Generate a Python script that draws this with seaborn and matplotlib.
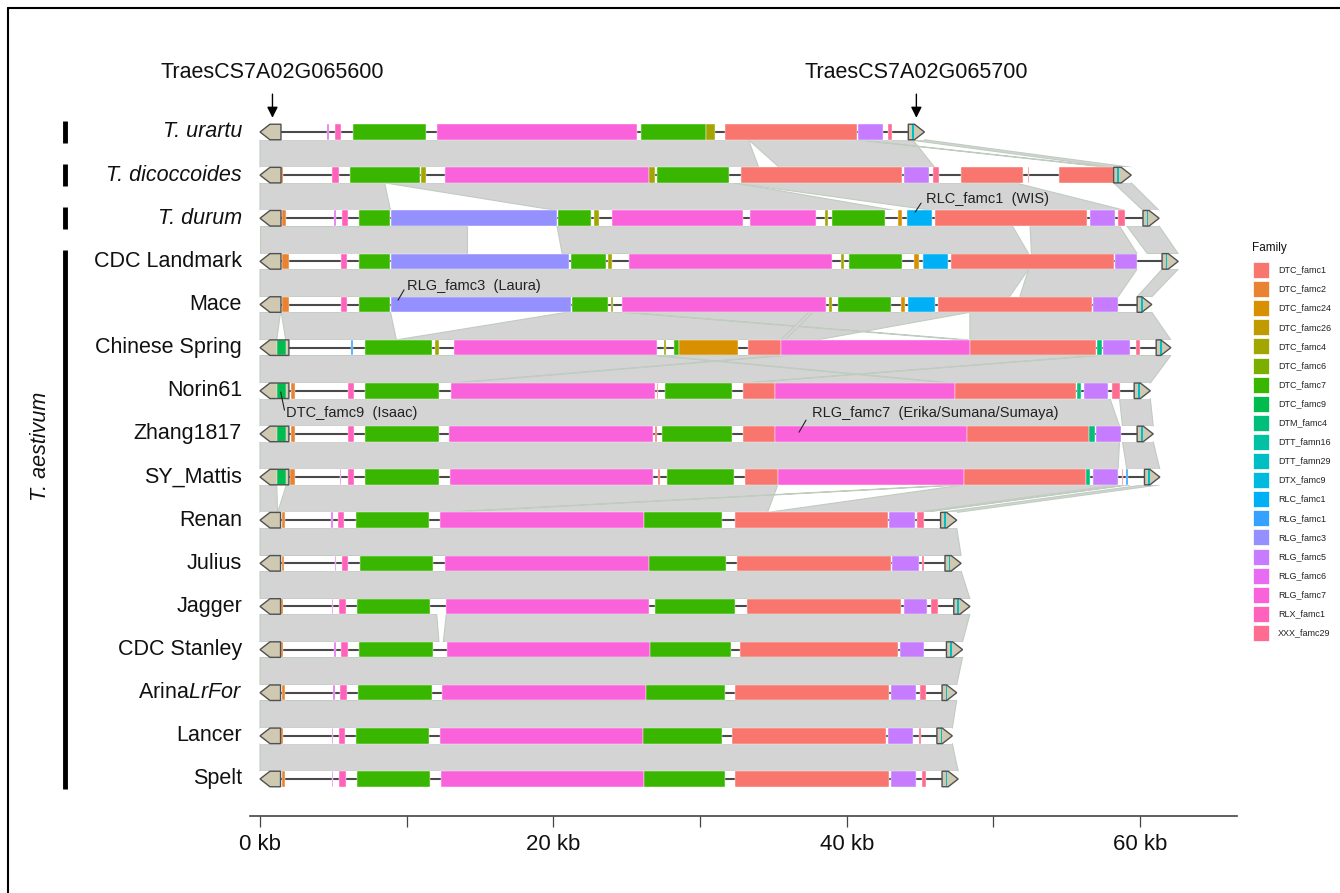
import numpy as np
import pandas as pd
import seaborn as sns
from matplotlib import pyplot as plt
from matplotlib import transforms
from matplotlib.patches import Polygon, Rectangle
from matplotlib.lines import Line2D

# TE families and ggplot-like hue colours
families = ['DTC_famc1', 'DTC_famc2', 'DTC_famc24', 'DTC_famc26', 'DTC_famc4', 'DTC_famc6',
            'DTC_famc7', 'DTC_famc9', 'DTM_famc4', 'DTT_famn16', 'DTT_famn29', 'DTX_famc9',
            'RLC_famc1', 'RLG_famc1', 'RLG_famc3', 'RLG_famc5', 'RLG_famc6', 'RLG_famc7',
            'RLX_famc1', 'XXX_famc29']
family_colors = ['#F8766D', '#EA8331', '#D89000', '#C09B00', '#A3A500', '#7CAE00',
                 '#39B600', '#00BB4E', '#00BF7D', '#00C1A3', '#00BFC4', '#00BAE0',
                 '#00B0F6', '#35A2FF', '#9590FF', '#C77CFF', '#E76BF3', '#FA62DB',
                 '#FF62BC', '#FF6C91']

row_names = ['T. urartu', 'T. dicoccoides', 'T. durum', 'CDC Landmark', 'Mace', 'Chinese Spring',
             'Norin61', 'Zhang1817', 'SY_Mattis', 'Renan', 'Julius', 'Jagger', 'CDC Stanley',
             'Arina$\\mathit{LrFor}$', 'Lancer', 'Spelt']
row_italic = [True, True, True] + [False] * 13

# gene positions (kb)
gene_left_end = [1.43, 1.43, 1.43, 1.43, 1.43, 1.97, 1.97, 1.97, 1.97, 1.4, 1.4, 1.4, 1.4, 1.4, 1.4, 1.4]
gene_right_start = [44.2, 58.2, 60.2, 61.5, 59.8, 61.1, 59.6, 59.8, 60.3, 46.4, 46.7, 47.3, 46.8, 46.5, 46.15, 46.5]
gene_right_end = [45.3, 59.4, 61.3, 62.6, 60.8, 62.1, 60.7, 60.9, 61.35, 47.5, 47.8, 48.4, 47.9, 47.5, 47.2, 47.6]

# TE blocks per row: (start kb, end kb, family)
urartu_te = [(4.55, 4.7, 'RLG_famc6'), (5.1, 5.5, 'RLX_famc1'), (6.34, 11.3, 'DTC_famc7'),
             (12.07, 25.7, 'RLG_famc7'), (26.0, 30.4, 'DTC_famc7'), (30.4, 31.0, 'DTC_famc4'),
             (31.7, 40.7, 'DTC_famc1'), (40.8, 42.5, 'RLG_famc5'), (42.8, 43.1, 'XXX_famc29')]
dicocc_te = [(1.43, 1.55, 'DTC_famc2'), (4.9, 5.4, 'RLX_famc1'), (6.13, 10.9, 'DTC_famc7'),
             (11.0, 11.3, 'DTC_famc4'), (12.6, 26.5, 'RLG_famc7'), (26.5, 26.9, 'DTC_famc4'),
             (27.1, 32.0, 'DTC_famc7'), (32.8, 43.8, 'DTC_famc1'), (43.9, 45.6, 'RLG_famc5'),
             (45.9, 46.3, 'XXX_famc29'), (47.8, 52.0, 'DTC_famc1'), (52.35, 52.45, 'DTC_famc1'),
             (54.5, 58.2, 'DTC_famc1')]
durum_te = [(1.48, 1.77, 'DTC_famc2'), (5.05, 5.15, 'RLG_famc6'), (5.56, 5.98, 'RLX_famc1'),
            (6.75, 8.86, 'DTC_famc7'), (8.93, 20.25, 'RLG_famc3'), (20.3, 22.6, 'DTC_famc7'),
            (22.8, 23.1, 'DTC_famc4'), (24.0, 32.9, 'RLG_famc7'), (33.4, 37.9, 'RLG_famc7'),
            (38.55, 38.7, 'DTC_famc4'), (39.0, 42.6, 'DTC_famc7'), (43.5, 43.8, 'DTC_famc24'),
            (44.1, 45.8, 'RLC_famc1'), (46.0, 56.4, 'DTC_famc1'), (56.6, 58.3, 'RLG_famc5'),
            (58.5, 58.95, 'XXX_famc29')]
landmark_te = [(1.48, 1.99, 'DTC_famc2'), (5.5, 5.9, 'RLX_famc1'), (6.75, 8.86, 'DTC_famc7'),
               (8.9, 21.1, 'RLG_famc3'), (21.2, 23.6, 'DTC_famc7'), (23.7, 23.97, 'DTC_famc4'),
               (25.15, 38.98, 'RLG_famc7'), (39.6, 39.8, 'DTC_famc4'), (40.15, 43.8, 'DTC_famc7'),
               (44.6, 44.9, 'DTC_famc24'), (45.2, 46.9, 'RLC_famc1'), (47.1, 58.2, 'DTC_famc1'),
               (58.3, 59.8, 'RLG_famc5')]
mace_te = [(1.5, 1.97, 'DTC_famc2'), (5.5, 5.9, 'RLX_famc1'), (6.75, 8.86, 'DTC_famc7'),
           (8.93, 21.2, 'RLG_famc3'), (21.3, 23.7, 'DTC_famc7'), (23.9, 24.1, 'DTC_famc4'),
           (24.7, 38.6, 'RLG_famc7'), (38.8, 39.0, 'DTC_famc4'), (39.4, 43.0, 'DTC_famc7'),
           (43.7, 44.0, 'DTC_famc24'), (44.2, 46.0, 'RLC_famc1'), (46.2, 56.7, 'DTC_famc1'),
           (56.8, 58.5, 'RLG_famc5')]
cs_te = [(1.14, 1.75, 'DTC_famc9'), (6.2, 6.35, 'RLG_famc1'), (7.16, 11.7, 'DTC_famc7'),
         (11.9, 12.2, 'DTC_famc4'), (13.2, 27.1, 'RLG_famc7'), (27.55, 27.65, 'DTC_famc4'),
         (28.2, 28.6, 'DTC_famc7'), (28.6, 32.6, 'DTC_famc24'), (33.3, 35.5, 'DTC_famc1'),
         (35.5, 48.4, 'RLG_famc7'), (48.4, 57.0, 'DTC_famc1'), (57.05, 57.4, 'DTM_famc4'),
         (57.5, 59.3, 'RLG_famc5'), (59.7, 60.0, 'XXX_famc29')]
norin_te = [(1.14, 1.75, 'DTC_famc9'), (2.1, 2.4, 'DTC_famc2'), (6.0, 6.4, 'RLX_famc1'),
            (7.16, 12.2, 'DTC_famc7'), (13.0, 26.9, 'RLG_famc7'), (27.05, 27.15, 'DTC_famc1'),
            (27.6, 32.2, 'DTC_famc7'), (32.9, 35.1, 'DTC_famc1'), (35.1, 47.4, 'RLG_famc7'),
            (47.4, 55.6, 'DTC_famc1'), (55.7, 56.0, 'DTM_famc4'), (56.2, 57.8, 'RLG_famc5'),
            (58.1, 58.6, 'XXX_famc29')]
zhang_te = [(1.14, 1.75, 'DTC_famc9'), (2.1, 2.4, 'DTC_famc2'), (6.0, 6.4, 'RLX_famc1'),
            (7.16, 12.2, 'DTC_famc7'), (12.9, 26.8, 'RLG_famc7'), (26.95, 27.05, 'DTC_famc1'),
            (27.4, 32.2, 'DTC_famc7'), (32.9, 35.1, 'DTC_famc1'), (35.1, 48.2, 'RLG_famc7'),
            (48.2, 56.5, 'DTC_famc1'), (56.5, 56.9, 'DTM_famc4'), (57.0, 58.7, 'RLG_famc5')]
mattis_te = [(1.14, 1.75, 'DTC_famc9'), (2.07, 2.4, 'DTC_famc2'), (5.45, 5.55, 'RLG_famc6'),
             (6.0, 6.4, 'RLX_famc1'), (7.16, 12.2, 'DTC_famc7'), (12.95, 26.8, 'RLG_famc7'),
             (27.15, 27.25, 'DTC_famc1'), (27.75, 32.3, 'DTC_famc7'), (33.1, 35.3, 'DTC_famc1'),
             (35.3, 48.0, 'RLG_famc7'), (48.0, 56.3, 'DTC_famc1'), (56.3, 56.6, 'DTM_famc4'),
             (56.8, 58.5, 'RLG_famc5'), (58.75, 58.85, 'XXX_famc29'), (59.05, 59.15, 'RLG_famc1')]
renan_te = [(1.48, 1.7, 'DTC_famc2'), (4.85, 4.95, 'RLG_famc6'), (5.3, 5.73, 'RLX_famc1'),
            (6.54, 11.5, 'DTC_famc7'), (12.3, 26.2, 'RLG_famc7'), (26.2, 31.5, 'DTC_famc7'),
            (32.4, 42.8, 'DTC_famc1'), (42.9, 44.65, 'RLG_famc5'), (44.8, 45.3, 'XXX_famc29')]
julius_te = [(1.48, 1.63, 'DTC_famc2'), (5.1, 5.2, 'RLG_famc6'), (5.6, 6.0, 'RLX_famc1'),
             (6.82, 11.8, 'DTC_famc7'), (12.6, 26.5, 'RLG_famc7'), (26.5, 31.8, 'DTC_famc7'),
             (32.5, 43.0, 'DTC_famc1'), (43.1, 44.9, 'RLG_famc5'), (45.15, 45.25, 'XXX_famc29')]
jagger_te = [(1.43, 1.6, 'DTC_famc2'), (4.88, 4.98, 'RLG_famc6'), (5.36, 5.84, 'RLX_famc1'),
             (6.63, 11.6, 'DTC_famc7'), (12.7, 26.5, 'RLG_famc7'), (26.9, 32.4, 'DTC_famc7'),
             (33.2, 43.7, 'DTC_famc1'), (43.9, 45.5, 'RLG_famc5'), (45.75, 46.2, 'XXX_famc29')]
stanley_te = [(1.43, 1.6, 'DTC_famc2'), (5.05, 5.15, 'RLG_famc6'), (5.5, 5.98, 'RLX_famc1'),
              (6.75, 11.8, 'DTC_famc7'), (12.76, 26.6, 'RLG_famc7'), (26.6, 32.1, 'DTC_famc7'),
              (32.7, 43.5, 'DTC_famc1'), (43.6, 45.3, 'RLG_famc5')]
arina_te = [(1.47, 1.73, 'DTC_famc2'), (5.0, 5.1, 'RLG_famc6'), (5.45, 5.94, 'RLX_famc1'),
            (6.7, 11.7, 'DTC_famc7'), (12.4, 26.3, 'RLG_famc7'), (26.3, 31.7, 'DTC_famc7'),
            (32.4, 42.9, 'DTC_famc1'), (43.0, 44.7, 'RLG_famc5'), (45.0, 45.4, 'XXX_famc29')]
lancer_te = [(1.43, 1.6, 'DTC_famc2'), (4.88, 4.98, 'RLG_famc6'), (5.36, 5.78, 'RLX_famc1'),
             (6.56, 11.55, 'DTC_famc7'), (12.24, 26.1, 'RLG_famc7'), (26.1, 31.5, 'DTC_famc7'),
             (32.2, 42.65, 'DTC_famc1'), (42.8, 44.5, 'RLG_famc5'), (44.95, 45.05, 'XXX_famc29')]
spelt_te = [(1.47, 1.73, 'DTC_famc2'), (4.88, 4.98, 'RLG_famc6'), (5.4, 5.84, 'RLX_famc1'),
            (6.63, 11.6, 'DTC_famc7'), (12.34, 26.2, 'RLG_famc7'), (26.2, 31.7, 'DTC_famc7'),
            (32.4, 42.9, 'DTC_famc1'), (43.05, 44.7, 'RLG_famc5'), (45.1, 45.4, 'XXX_famc29')]
te_rows = [urartu_te, dicocc_te, durum_te, landmark_te, mace_te, cs_te, norin_te, zhang_te,
           mattis_te, renan_te, julius_te, jagger_te, stanley_te, arina_te, lancer_te, spelt_te]

# synteny between neighbouring rows: (upper start, upper end, lower start, lower end) in kb
syn_0_1 = [(0, 33.3, 0, 34.0), (33.3, 44.5, 35.4, 46.0), (44.2, 45.3, 58.2, 59.4), (40.6, 40.8, 57.8, 58.1)]
syn_1_2 = [(0, 8.5, 0, 8.9), (8.5, 32.3, 20.25, 43.3), (32.3, 51.5, 45.9, 59.0), (58.2, 59.4, 60.2, 61.3)]
syn_2_3 = [(0, 14.1, 0, 14.1), (20.25, 51.3, 20.6, 52.4), (52.5, 58.6, 52.6, 59.8), (59.1, 61.3, 60.5, 62.6)]
syn_3_4 = [(0, 52.4, 0, 51.1), (52.4, 59.8, 51.8, 58.5), (61.5, 62.6, 59.8, 60.8)]
syn_4_5 = [(0, 1.4, 0, 1.14), (1.45, 8.9, 1.75, 9.3), (20.9, 48.4, 9.3, 38.0), (48.4, 60.8, 48.4, 62.1),
           (24.7, 25.0, 47.9, 48.3), (37.4, 37.7, 35.5, 35.8)]
syn_5_6 = [(0, 62.1, 0, 60.7), (35.5, 35.9, 13.0, 13.4), (26.8, 27.1, 46.9, 47.3), (57.0, 57.3, 32.9, 33.2)]
syn_6_7 = [(0, 57.95, 0, 58.6), (58.6, 60.7, 58.8, 60.9)]
syn_7_8 = [(0, 58.6, 0, 58.5), (58.8, 60.9, 59.1, 61.35)]
syn_8_9 = [(0, 1.14, 0, 1.2), (1.8, 35.3, 1.2, 34.6), (48.0, 58.5, 34.6, 44.7), (60.3, 61.35, 46.4, 47.5),
           (47.6, 48.0, 12.3, 12.7), (59.0, 59.3, 45.0, 45.3)]
syn_9_10 = [(0, 47.5, 0, 47.8)]
syn_10_11 = [(0, 47.8, 0, 48.4)]
syn_11_12 = [(0, 12.05, 0, 12.2), (12.7, 48.4, 12.5, 47.9)]
syn_12_13 = [(0, 47.9, 0, 47.5)]
syn_13_14 = [(0, 47.5, 0, 47.2)]
syn_14_15 = [(0, 47.2, 0, 47.6)]
syn_pairs = [syn_0_1, syn_1_2, syn_2_3, syn_3_4, syn_4_5, syn_5_6, syn_6_7, syn_7_8,
             syn_8_9, syn_9_10, syn_10_11, syn_11_12, syn_12_13, syn_13_14, syn_14_15]

major_ticks = [0, 20, 40, 60]
tick_labels = ['0 kb', '20 kb', '40 kb', '60 kb']
minor_ticks = [10, 30, 50]

# labelled TEs: (text, text x, text y, line from x, y)
callouts = [('RLC_famc1  (WIS)', 45.4, 1.55, 44.66, 1.86, 45.07, 1.65),
            ('RLG_famc3  (Laura)', 10.02, 3.57, 9.41, 3.90, 9.82, 3.66),
            ('DTC_famc9  (Isaac)', 1.77, 6.515, 1.41, 6.03, 1.67, 6.45),
            ('RLG_famc7  (Erika/Sumana/Sumaya)', 37.64, 6.515, 36.75, 6.96, 37.23, 6.68)]
top_genes = [('TraesCS7A02G065600', 0.85), ('TraesCS7A02G065700', 44.75)]

te = pd.DataFrame([(i, s, e, f) for i, blocks in enumerate(te_rows) for s, e, f in blocks],
                  columns=['row', 'start', 'end', 'family'])

sns.set_theme(style='white')
plt.rcParams['font.family'] = ['Liberation Sans', 'DejaVu Sans']
plt.rcParams['mathtext.fontset'] = 'custom'
plt.rcParams['mathtext.rm'] = 'Liberation Sans'
plt.rcParams['mathtext.it'] = 'Liberation Sans:italic'

pal = dict(zip(families, family_colors))
W, H = 1340, 893
fig = plt.figure(figsize=(13.4, 8.93), dpi=100)
ax = fig.add_axes([250 / W, 1 - 816 / H, 987 / W, 756 / H])
ax.set_xlim(-0.682, 66.61)
ax.set_ylim(15.858, -1.669)
h = 0.18
hl = 0.68

# synteny ribbons
for i, links in enumerate(syn_pairs):
    y0, y1 = i + h, i + 1 - h
    for ts, te_, bs, be in links:
        ax.add_patch(Polygon([(ts, y0), (te_, y0), (be, y1), (bs, y1)], closed=True,
                             fc='#D4D4D4', ec='#C0CCC0', lw=0.8, zorder=1))

# rows
for i in range(len(row_names)):
    le, rs, re = gene_left_end[i], gene_right_start[i], gene_right_end[i]
    ax.add_patch(Rectangle((0, i - h), re, 2 * h, fc='white', ec='none', zorder=2))
    ax.plot([le, rs], [i, i], color='#4a4a4a', lw=1.5, zorder=3, solid_capstyle='butt')
    left = [(0, i), (hl, i - h), (le, i - h), (le, i + h), (hl, i + h)]
    right = [(rs, i - h), (re - hl, i - h), (re, i), (re - hl, i + h), (rs, i + h)]
    for pts in (left, right):
        ax.add_patch(Polygon(pts, closed=True, fc='#CFC9B1', ec='none', zorder=4))
        ax.add_patch(Polygon(pts, closed=True, fill=False, ec='#505050', lw=1.0, zorder=6))
    ax.add_patch(Rectangle((rs + 0.25, i - h), 0.12, 2 * h, fc=pal['DTT_famn29'], ec='none', zorder=5))

for _, r in te.iterrows():
    ax.add_patch(Rectangle((r['start'], r['row'] - h), r['end'] - r['start'], 2 * h,
                           fc=pal[r['family']], ec='white', lw=0.3, zorder=5))

# callouts
for txt, tx, ty, x0, y0, x1, y1 in callouts:
    ax.plot([x0, x1], [y0, y1], color='#222222', lw=0.8, zorder=7)
    ax.text(tx, ty, txt, fontsize=10.5, color='#222222', ha='left', va='center', zorder=7)

for name, gx in top_genes:
    ax.annotate(name, xy=(gx, -0.33), xytext=(gx, -1.39), ha='center', va='center',
                fontsize=15.5, color='#111111',
                arrowprops=dict(arrowstyle='-|>', color='black', lw=1.0, mutation_scale=16,
                                shrinkA=6, shrinkB=0))

# x axis
sns.despine(ax=ax, left=True, top=True, right=True)
ax.spines['bottom'].set_color('#444444')
ax.spines['bottom'].set_linewidth(1.2)
ax.set_yticks([])
ax.set_xticks(major_ticks)
ax.set_xticklabels(tick_labels)
ax.set_xticks(minor_ticks, minor=True)
ax.tick_params(axis='x', which='both', bottom=True, length=8, width=0.9, color='#444444',
               labelsize=16, pad=5, labelcolor='#111111')
ax.grid(False)

# row labels and group bars
trans = transforms.blended_transform_factory(fig.transFigure, ax.transData)
for i, name in enumerate(row_names):
    fig.text(242 / W, i, name, transform=trans, ha='right', va='center', fontsize=15.5,
             style='italic' if row_italic[i] else 'normal', color='#111111')
for y0, y1 in [(-0.26, 0.26), (0.74, 1.26), (1.74, 2.26), (2.73, 15.23)]:
    fig.add_artist(Line2D([65 / W, 65 / W], [y0, y1], transform=trans, color='black', lw=3.5,
                          solid_capstyle='butt'))
fig.text(40 / W, 7.3, 'T. aestivum', transform=trans, rotation=90, ha='center', va='center',
         fontsize=15.5, style='italic', color='#111111')

# legend
fig.text(1252 / W, 1 - 248 / H, 'Family', fontsize=8.5, ha='left', va='center', color='#111111')
for k, fam in enumerate(families):
    yc = 270 + k * 19.1
    fig.add_artist(Rectangle((1253 / W, 1 - (yc + 8) / H), 16 / W, 16 / H, transform=fig.transFigure,
                             fc=pal[fam], ec='white', lw=0.5))
    fig.text(1278 / W, 1 - yc / H, fam, fontsize=6.5, ha='left', va='center', color='#222222')

# outer frame
fig.add_artist(Line2D([8 / W, 8 / W], [0, 1 - 8 / H], transform=fig.transFigure, color='black', lw=1.5))
fig.add_artist(Line2D([8 / W, 1], [1 - 8 / H, 1 - 8 / H], transform=fig.transFigure, color='black', lw=1.5))

fig.savefig('out.png', dpi=100)
